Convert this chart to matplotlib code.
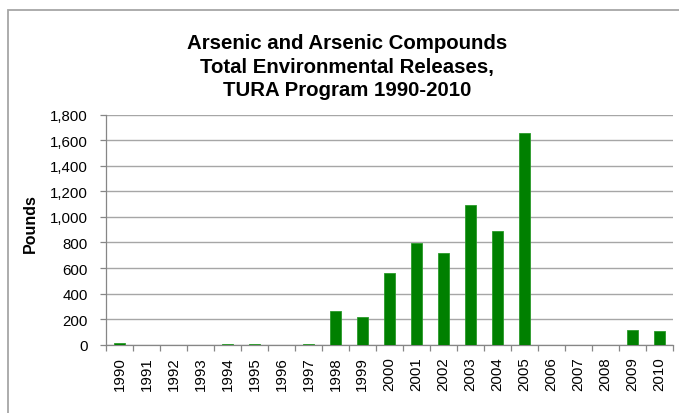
import matplotlib
matplotlib.use("Agg")
import matplotlib.pyplot as plt
from matplotlib.patches import Rectangle
from matplotlib.ticker import FuncFormatter

years = [str(y) for y in range(1990, 2011)]
pounds = [12, 0, 0, 0, 2, 2, 0, 3, 261, 217, 561, 798, 718, 1093, 887, 1659,
          0, 0, 0, 117, 107]

title = "Arsenic and Arsenic Compounds\nTotal Environmental Releases,\nTURA Program 1990-2010"

W, H = 679, 414
fig = plt.figure(figsize=(W / 100, H / 100), dpi=100)
plt.rcParams["font.family"] = ["Liberation Sans", "DejaVu Sans"]

# chart frame (top and left edges visible)
fig.patches.append(Rectangle((8 / W, -0.1), 1.2, 1 - 11 / H + 0.1,
                             transform=fig.transFigure, fill=False,
                             edgecolor="#a6a6a6", linewidth=1.3))

ax = fig.add_axes([106 / W, 1 - 345.7 / H, (672.7 - 106) / W, (345.7 - 115.7) / H])
x = list(range(len(years)))
ax.bar(x, pounds, width=0.42, color="#008000", edgecolor="#2a9a2a",
       linewidth=0.6, zorder=3)

ax.set_xlim(-0.5, len(years) - 0.5)
ax.set_ylim(0, 1800)
ax.set_yticks(range(0, 1801, 200))
ax.yaxis.set_major_formatter(FuncFormatter(lambda v, p: f"{int(v):,}"))
ax.set_xticks(x)
ax.set_xticklabels(years, rotation=90, fontsize=10.8)
ax.set_xticks([i - 0.5 for i in range(len(years) + 1)], minor=True)
ax.tick_params(axis="x", which="major", length=0, pad=8.5)
ax.tick_params(axis="x", which="minor", length=4.3, color="#868686", width=0.9)
ax.tick_params(axis="y", length=4.3, color="#868686", width=0.9, labelsize=10.8, pad=9)

ax.grid(axis="y", color="#a6a6a6", linewidth=1.0, zorder=0)
for side in ("top", "right"):
    ax.spines[side].set_visible(False)
for side in ("left", "bottom"):
    ax.spines[side].set_color("#868686")
    ax.spines[side].set_linewidth(0.9)

fig.text(30 / W, 1 - 224 / H, "Pounds", rotation=90, ha="center", va="center",
         fontsize=11.5, fontweight="bold")

fig.text(347 / W, 1 - 67 / H, title, ha="center", va="center",
         fontsize=14.7, fontweight="bold", linespacing=1.3)

fig.savefig("out.png", dpi=100)
